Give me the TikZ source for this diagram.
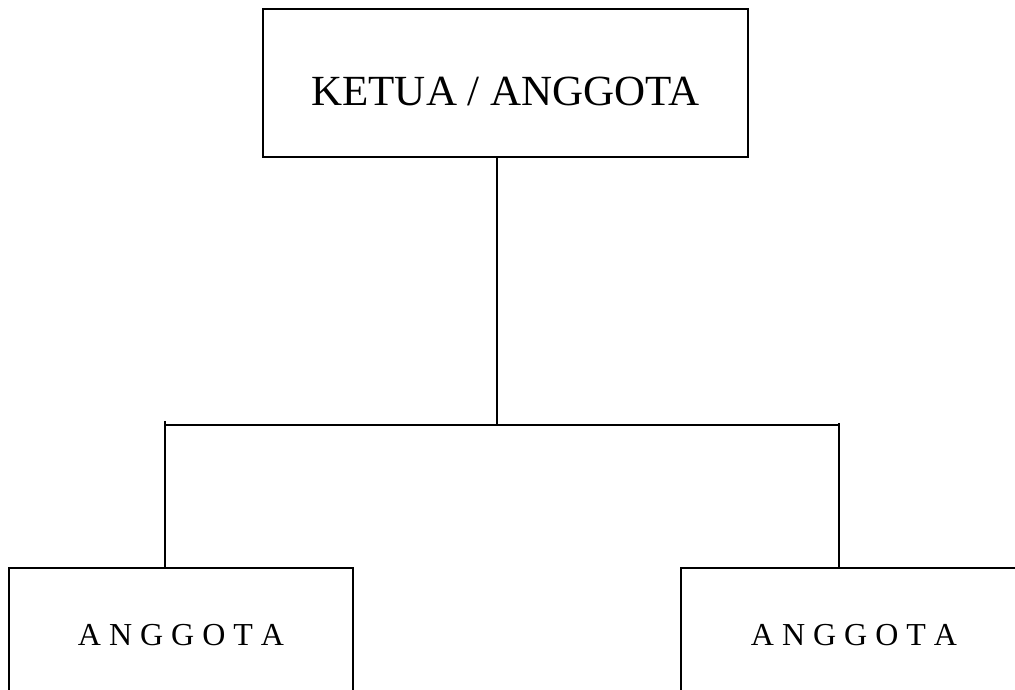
\documentclass[tikz,border=0pt]{standalone}
\usepackage{fontspec}
\setmainfont{Liberation Serif}
\usetikzlibrary{calc}
\tikzset{
  chief/.style={draw, line width=2.7pt, minimum width=485pt, minimum height=148pt,
    inner sep=0pt, font=\fontsize{43}{48}\selectfont, text height=46pt, text depth=0pt},
  member/.style={draw, line width=2pt, minimum width=344pt, minimum height=135pt,
    inner sep=0pt, font=\fontsize{32}{36}\selectfont},
  wire/.style={line width=2pt}
}
\begin{document}
\begin{tikzpicture}[x=1pt,y=1pt]
  \useasboundingbox (0,0) rectangle (1015,690);
  \clip (0,0) rectangle (1015,690);
  % head of the group
  \node[chief] (ketua) at (505.5,607) {KETUA / ANGGOTA};
  % members
  \node[member] (kiri) at (181,54.5) {A N G G O T A};
  \node[member, minimum width=346pt] (kanan) at (854,54.5) {A N G G O T A};
  % branching points
  \coordinate (j) at (497,264.5);
  \coordinate (jl) at (165,269);
  \coordinate (jr) at (839,267);
  % connectors
  \draw[wire] (ketua.south -| j) -- (j);
  \draw[wire] (jl |- j) -- (jr |- j);
  \draw[wire] (jl) -- (jl |- kiri.north);
  \draw[wire] (jr) -- (jr |- kanan.north);
\end{tikzpicture}
\end{document}
